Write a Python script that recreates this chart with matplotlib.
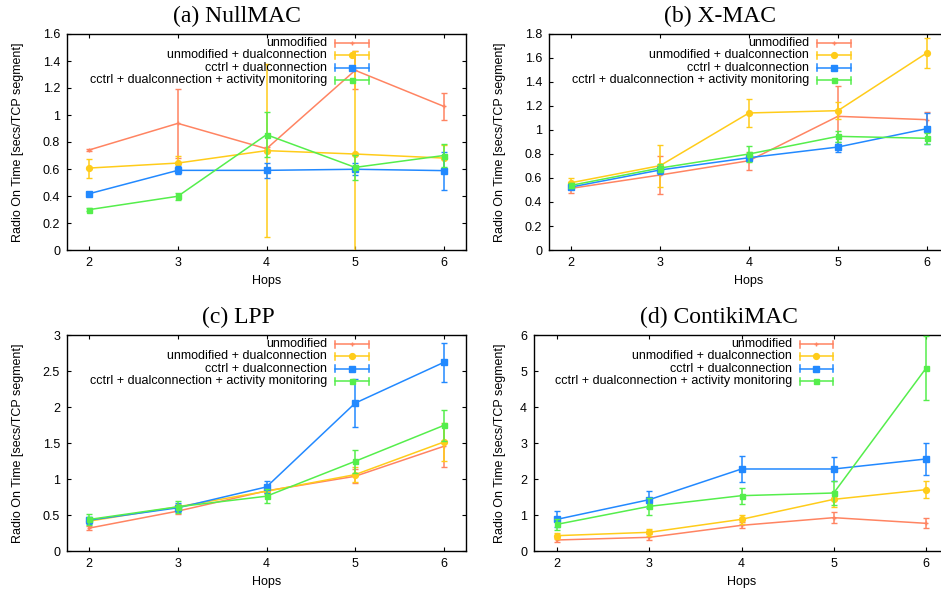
import matplotlib
matplotlib.use("Agg")
import matplotlib.pyplot as plt
from matplotlib.ticker import MultipleLocator, FuncFormatter
from matplotlib.lines import Line2D

hops = [2, 3, 4, 5, 6]

series_labels = [
    "unmodified",
    "unmodified + dualconnection",
    "cctrl + dualconnection",
    "cctrl + dualconnection + activity monitoring",
]

# (a) NullMAC
nullmac_unmod = [0.741, 0.938, 0.750, 1.331, 1.064]
nullmac_unmod_err = [0.01, 0.255, 0.01, 0.14, 0.10]
nullmac_dual = [0.607, 0.644, 0.736, 0.711, 0.681]
nullmac_dual_err = [0.07, 0.055, 0.64, 0.76, 0.10]
nullmac_cctrl = [0.417, 0.590, 0.590, 0.598, 0.588]
nullmac_cctrl_err = [0.01, 0.03, 0.055, 0.045, 0.14]
nullmac_act = [0.299, 0.398, 0.854, 0.612, 0.700]
nullmac_act_err = [0.01, 0.025, 0.165, 0.09, 0.085]

# (b) X-MAC
xmac_unmod = [0.514, 0.625, 0.744, 1.114, 1.086]
xmac_unmod_err = [0.04, 0.155, 0.075, 0.25, 0.06]
xmac_dual = [0.561, 0.703, 1.142, 1.161, 1.642]
xmac_dual_err = [0.04, 0.175, 0.115, 0.07, 0.123]
xmac_cctrl = [0.525, 0.667, 0.769, 0.858, 1.011]
xmac_cctrl_err = [0.02, 0.03, 0.03, 0.04, 0.13]
xmac_act = [0.539, 0.683, 0.800, 0.947, 0.931]
xmac_act_err = [0.02, 0.03, 0.07, 0.045, 0.045]

# (c) LPP
lpp_unmod = [0.318, 0.554, 0.835, 1.038, 1.454]
lpp_unmod_err = [0.03, 0.04, 0.03, 0.10, 0.29]
lpp_dual = [0.415, 0.614, 0.830, 1.061, 1.514]
lpp_dual_err = [0.03, 0.04, 0.04, 0.10, 0.27]
lpp_cctrl = [0.429, 0.600, 0.890, 2.054, 2.620]
lpp_cctrl_err = [0.05, 0.06, 0.08, 0.33, 0.27]
lpp_act = [0.438, 0.614, 0.761, 1.246, 1.744]
lpp_act_err = [0.08, 0.08, 0.10, 0.16, 0.21]

# (d) ContikiMAC
contiki_unmod = [0.306, 0.380, 0.713, 0.926, 0.769]
contiki_unmod_err = [0.05, 0.08, 0.08, 0.15, 0.14]
contiki_dual = [0.426, 0.519, 0.880, 1.435, 1.704]
contiki_dual_err = [0.08, 0.09, 0.13, 0.20, 0.24]
contiki_cctrl = [0.880, 1.426, 2.278, 2.278, 2.556]
contiki_cctrl_err = [0.22, 0.23, 0.35, 0.33, 0.44]
contiki_act = [0.741, 1.240, 1.537, 1.611, 5.074]
contiki_act_err = [0.15, 0.23, 0.22, 0.33, 0.89]

titles = ["(a) NullMAC", "(b) X-MAC", "(c) LPP", "(d) ContikiMAC"]
y_maxima = [1.6, 1.8, 3.0, 6.0]
y_steps = [0.2, 0.2, 0.5, 1.0]

panels = [
    [(nullmac_unmod, nullmac_unmod_err), (nullmac_dual, nullmac_dual_err),
     (nullmac_cctrl, nullmac_cctrl_err), (nullmac_act, nullmac_act_err)],
    [(xmac_unmod, xmac_unmod_err), (xmac_dual, xmac_dual_err),
     (xmac_cctrl, xmac_cctrl_err), (xmac_act, xmac_act_err)],
    [(lpp_unmod, lpp_unmod_err), (lpp_dual, lpp_dual_err),
     (lpp_cctrl, lpp_cctrl_err), (lpp_act, lpp_act_err)],
    [(contiki_unmod, contiki_unmod_err), (contiki_dual, contiki_dual_err),
     (contiki_cctrl, contiki_cctrl_err), (contiki_act, contiki_act_err)],
]

colors = ["#FF8462", "#FFCC1A", "#2289FF", "#55EE4C"]
markers = ["+", "o", "s", "s"]
msizes = [3.5, 4.2, 4.4, 3.6]

plt.rcParams["font.family"] = ["Liberation Sans", "DejaVu Sans"]
plt.rcParams["font.size"] = 9

W, H = 941, 592
fig = plt.figure(figsize=(W / 100, H / 100), dpi=100)

# axes rectangles in pixels: left, top, width, height
rects_px = [(67, 34, 399, 216), (549, 34, 400, 216),
            (67, 335, 399, 216), (534, 335, 415, 216)]
title_pos_px = [(237, 16), (720, 16), (238, 317), (719, 317)]
ylabel_x = [-0.108, -0.108, -0.108, -0.068]
legend_text_x = [0.652, 0.650, 0.652, 0.622]
legend_handle_x = [(0.672, 0.757), (0.670, 0.755), (0.672, 0.757), (0.641, 0.720)]
legend_rows = [0.958, 0.902, 0.843, 0.786]

for i, (l, t, w, h) in enumerate(rects_px):
    ax = fig.add_axes([l / W, 1 - (t + h) / H, w / W, h / H])
    for j, (vals, errs) in enumerate(panels[i]):
        ax.errorbar(hops, vals, yerr=errs, color=colors[j], lw=1.1,
                    elinewidth=1.1, capsize=2.0, capthick=1.1,
                    marker=markers[j], ms=msizes[j], mew=1.0,
                    mec=colors[j], mfc=colors[j], zorder=2 + j)
    ax.set_xlim(1.75, 6.25)
    ax.set_ylim(0, y_maxima[i])
    ax.xaxis.set_major_locator(MultipleLocator(1))
    ax.yaxis.set_major_locator(MultipleLocator(y_steps[i]))
    ax.yaxis.set_major_formatter(FuncFormatter(lambda v, p: f"{v:g}"))
    ax.tick_params(direction="in", length=3.0, width=0.8, top=True, right=True,
                   labelsize=9, pad=5)
    for s in ax.spines.values():
        s.set_linewidth(1.0)
    ax.set_xlabel("Hops", fontsize=9, labelpad=4)
    ax.set_ylabel("Radio On Time [secs/TCP segment]", fontsize=9)
    ax.yaxis.set_label_coords(ylabel_x[i], 0.5)

    # key: label text followed by a short errorbar sample
    x0, x1 = legend_handle_x[i]
    for j, lab in enumerate(series_labels):
        yy = legend_rows[j]
        ax.text(legend_text_x[i], yy, lab, ha="right", va="center",
                transform=ax.transAxes, fontsize=9, zorder=10)
        ax.add_line(Line2D([x0, x1], [yy, yy], color=colors[j], lw=1.1,
                           transform=ax.transAxes, clip_on=False, zorder=10))
        for xc in (x0, x1):
            ax.add_line(Line2D([xc, xc], [yy - 0.016, yy + 0.016], color=colors[j],
                               lw=1.1, transform=ax.transAxes, clip_on=False, zorder=10))
        ax.add_line(Line2D([(x0 + x1) / 2], [yy], color=colors[j], marker=markers[j],
                           ms=msizes[j], mew=1.0, mfc=colors[j], mec=colors[j],
                           transform=ax.transAxes, clip_on=False, zorder=10))

    tx, ty = title_pos_px[i]
    fig.text(tx / W, 1 - ty / H, titles[i], ha="center", va="center",
             fontsize=17, family=["Liberation Serif", "DejaVu Serif"])

fig.savefig("out.png", dpi=100)
